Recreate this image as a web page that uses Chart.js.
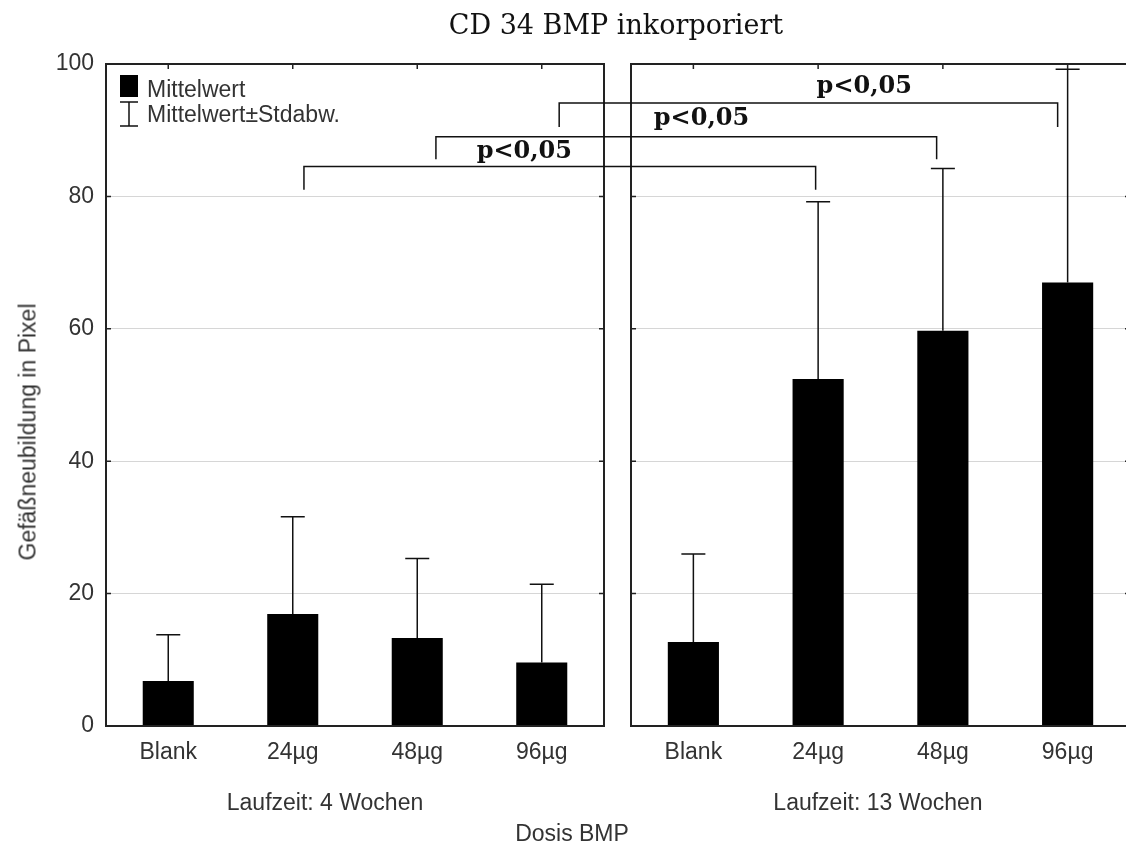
<!DOCTYPE html>
<html>
<head>
<meta charset="utf-8">
<script src="https://cdn.jsdelivr.net/npm/chart.js@4.4.1/dist/chart.umd.min.js"></script>
<style>
    body { margin: 0; background: #fff; }
    #wrap { position: relative; width: 1126px; height: 848px; overflow: hidden; }
    #wrap canvas { position: absolute; left: 0; top: 0; }
    .lbl {
        position: absolute;
        font-family: "Liberation Sans", Arial, sans-serif;
        font-size: 23px;
        color: #333;
        white-space: nowrap;
        transform: translate(-50%, -50%);
    }
    #title { font-family: "DejaVu Serif", serif; font-size: 27px; color: #111; }
    #ytitle { transform: translate(-50%, -50%) rotate(-90deg); }
</style>
</head>
<body>
<div id="wrap">
    <canvas id="left" width="1135" height="848"></canvas>
    <canvas id="right" width="1135" height="848"></canvas>
    <div class="lbl" id="title" style="left:616px; top:24px;">CD 34 BMP inkorporiert</div>
    <div class="lbl" id="ytitle" style="left:28px; top:432px;">Gefäßneubildung in Pixel</div>
    <div class="lbl" style="left:325px; top:802px;">Laufzeit: 4 Wochen</div>
    <div class="lbl" style="left:878px; top:802px;">Laufzeit: 13 Wochen</div>
    <div class="lbl" style="left:572px; top:833px;">Dosis BMP</div>
</div>
<script>
// Daten
const doses = ['Blank', '24µg', '48µg', '96µg'];
const mean4 = [6.8, 16.9, 13.3, 9.6];      // Laufzeit 4 Wochen
const sd4 = [7.0, 14.7, 12.0, 11.8];
const mean13 = [12.7, 52.4, 59.7, 67.0];   // Laufzeit 13 Wochen
const sd13 = [13.3, 26.8, 24.5, 32.2];
const yMin = 0, yMax = 100, yStep = 20;

// Signifikanz-Klammern (Kategorie-Index links -> rechts, Höhen in Achsen-Einheiten)
const sigFrom = [1.09, 2.15, 3.14];
const sigTo = [0.98, 1.95, 2.92];
const sigLevel = [84.5, 89.0, 94.1];
const sigDrop = [81.0, 85.6, 90.5];
const sigText = ['p<0,05', 'p<0,05', 'p<0,05'];
const sigLabelPanel = ['left', 'right', 'right'];
const sigLabelIdx = [2.86, 0.065, 1.37];
const sigLabelBase = [85.8, 90.8, 95.6];

const sansFont = { family: '"Liberation Sans", Arial, sans-serif', size: 23 };
const textColor = '#333';

// Fehlerbalken, Rahmen und Striche
const panelDeco = {
    id: 'panelDeco',
    afterDatasetsDraw(chart, args, opts) {
        const ctx = chart.ctx;
        const y = chart.scales.y;
        const meta = chart.getDatasetMeta(0);
        const data = chart.data.datasets[0].data;
        ctx.save();
        ctx.strokeStyle = '#111';
        ctx.lineWidth = 1.5;
        meta.data.forEach((bar, i) => {
            const top = y.getPixelForValue(data[i] + opts.sd[i]);
            ctx.beginPath();
            ctx.moveTo(bar.x, bar.y);
            ctx.lineTo(bar.x, top);
            ctx.moveTo(bar.x - 12, top);
            ctx.lineTo(bar.x + 12, top);
            ctx.stroke();
        });
        ctx.restore();
    },
    afterDraw(chart, args, opts) {
        const ctx = chart.ctx;
        const a = chart.chartArea;
        const x = chart.scales.x, y = chart.scales.y;
        ctx.save();
        ctx.strokeStyle = '#222';
        ctx.lineWidth = 2;
        ctx.strokeRect(a.left, a.top, a.right - a.left, a.bottom - a.top);
        ctx.lineWidth = 1.5;
        ctx.beginPath();
        for (let v = yMin + yStep; v < yMax; v += yStep) {
            const py = y.getPixelForValue(v);
            ctx.moveTo(a.left, py); ctx.lineTo(a.left + 5, py);
            ctx.moveTo(a.right - 5, py); ctx.lineTo(a.right, py);
        }
        doses.forEach((d, i) => {
            const px = x.getPixelForValue(i);
            ctx.moveTo(px, a.top); ctx.lineTo(px, a.top + 5);
        });
        ctx.stroke();

        if (opts.legend) {
            ctx.fillStyle = '#000';
            ctx.fillRect(a.left + 14, a.top + 11, 18, 22);
            ctx.strokeStyle = '#111';
            ctx.lineWidth = 1.5;
            const lx = a.left + 23;
            ctx.beginPath();
            ctx.moveTo(lx, a.top + 38); ctx.lineTo(lx, a.top + 62);
            ctx.moveTo(lx - 9, a.top + 38); ctx.lineTo(lx + 9, a.top + 38);
            ctx.moveTo(lx - 9, a.top + 62); ctx.lineTo(lx + 9, a.top + 62);
            ctx.stroke();
            ctx.fillStyle = textColor;
            ctx.font = '23px "Liberation Sans", Arial, sans-serif';
            ctx.textBaseline = 'alphabetic';
            ctx.fillText('Mittelwert', a.left + 41, a.top + 33);
            ctx.fillText('Mittelwert±Stdabw.', a.left + 41, a.top + 58);
        }
        ctx.restore();
    }
};

function panelOptions(sd, showY, padding, legend) {
    return {
        responsive: false,
        animation: false,
        layout: { padding: padding },
        plugins: {
            legend: { display: false },
            tooltip: { enabled: false },
            panelDeco: { sd: sd, legend: legend }
        },
        scales: {
            x: {
                grid: { display: false },
                border: { display: false },
                ticks: { font: sansFont, color: textColor, padding: 5 },
                afterFit: s => { s.height = 122; }
            },
            y: {
                min: yMin,
                max: yMax,
                grid: { color: '#d6d6d6', lineWidth: 1, drawTicks: false },
                border: { display: false },
                ticks: { display: showY, stepSize: yStep, font: sansFont, color: textColor, padding: 12 },
                afterFit: s => { s.width = showY ? 106 : 0; }
            }
        }
    };
}

const leftChart = new Chart(document.getElementById('left'), {
    type: 'bar',
    data: {
        labels: doses,
        datasets: [{
            label: 'Mittelwert',
            data: mean4,
            backgroundColor: '#000',
            categoryPercentage: 1,
            barPercentage: 0.41
        }]
    },
    options: panelOptions(sd4, true, { left: 0, right: 1135 - 604, top: 64, bottom: 0 }, true),
    plugins: [panelDeco]
});

const brackets = {
    id: 'brackets',
    afterDraw(chart) {
        const ctx = chart.ctx;
        const L = leftChart.scales, R = chart.scales;
        ctx.save();
        ctx.strokeStyle = '#111';
        ctx.lineWidth = 1.5;
        sigFrom.forEach((f, i) => {
            const x1 = L.x.getPixelForValue(f);
            const x2 = R.x.getPixelForValue(sigTo[i]);
            const yl = R.y.getPixelForValue(sigLevel[i]);
            const yd = R.y.getPixelForValue(sigDrop[i]);
            ctx.beginPath();
            ctx.moveTo(x1, yd); ctx.lineTo(x1, yl); ctx.lineTo(x2, yl); ctx.lineTo(x2, yd);
            ctx.stroke();
        });
        ctx.fillStyle = '#111';
        ctx.font = 'bold 24px "DejaVu Serif", serif';
        ctx.textAlign = 'center';
        ctx.textBaseline = 'alphabetic';
        sigText.forEach((t, i) => {
            const s = sigLabelPanel[i] === 'left' ? L : R;
            ctx.fillText(t, s.x.getPixelForValue(sigLabelIdx[i]), s.y.getPixelForValue(sigLabelBase[i]));
        });
        ctx.restore();
    }
};

const rightChart = new Chart(document.getElementById('right'), {
    type: 'bar',
    data: {
        labels: doses,
        datasets: [{
            label: 'Mittelwert',
            data: mean13,
            backgroundColor: '#000',
            categoryPercentage: 1,
            barPercentage: 0.41
        }]
    },
    options: panelOptions(sd13, false, { left: 631, right: 5, top: 64, bottom: 0 }, false),
    plugins: [panelDeco, brackets]
});
</script>
</body>
</html>
